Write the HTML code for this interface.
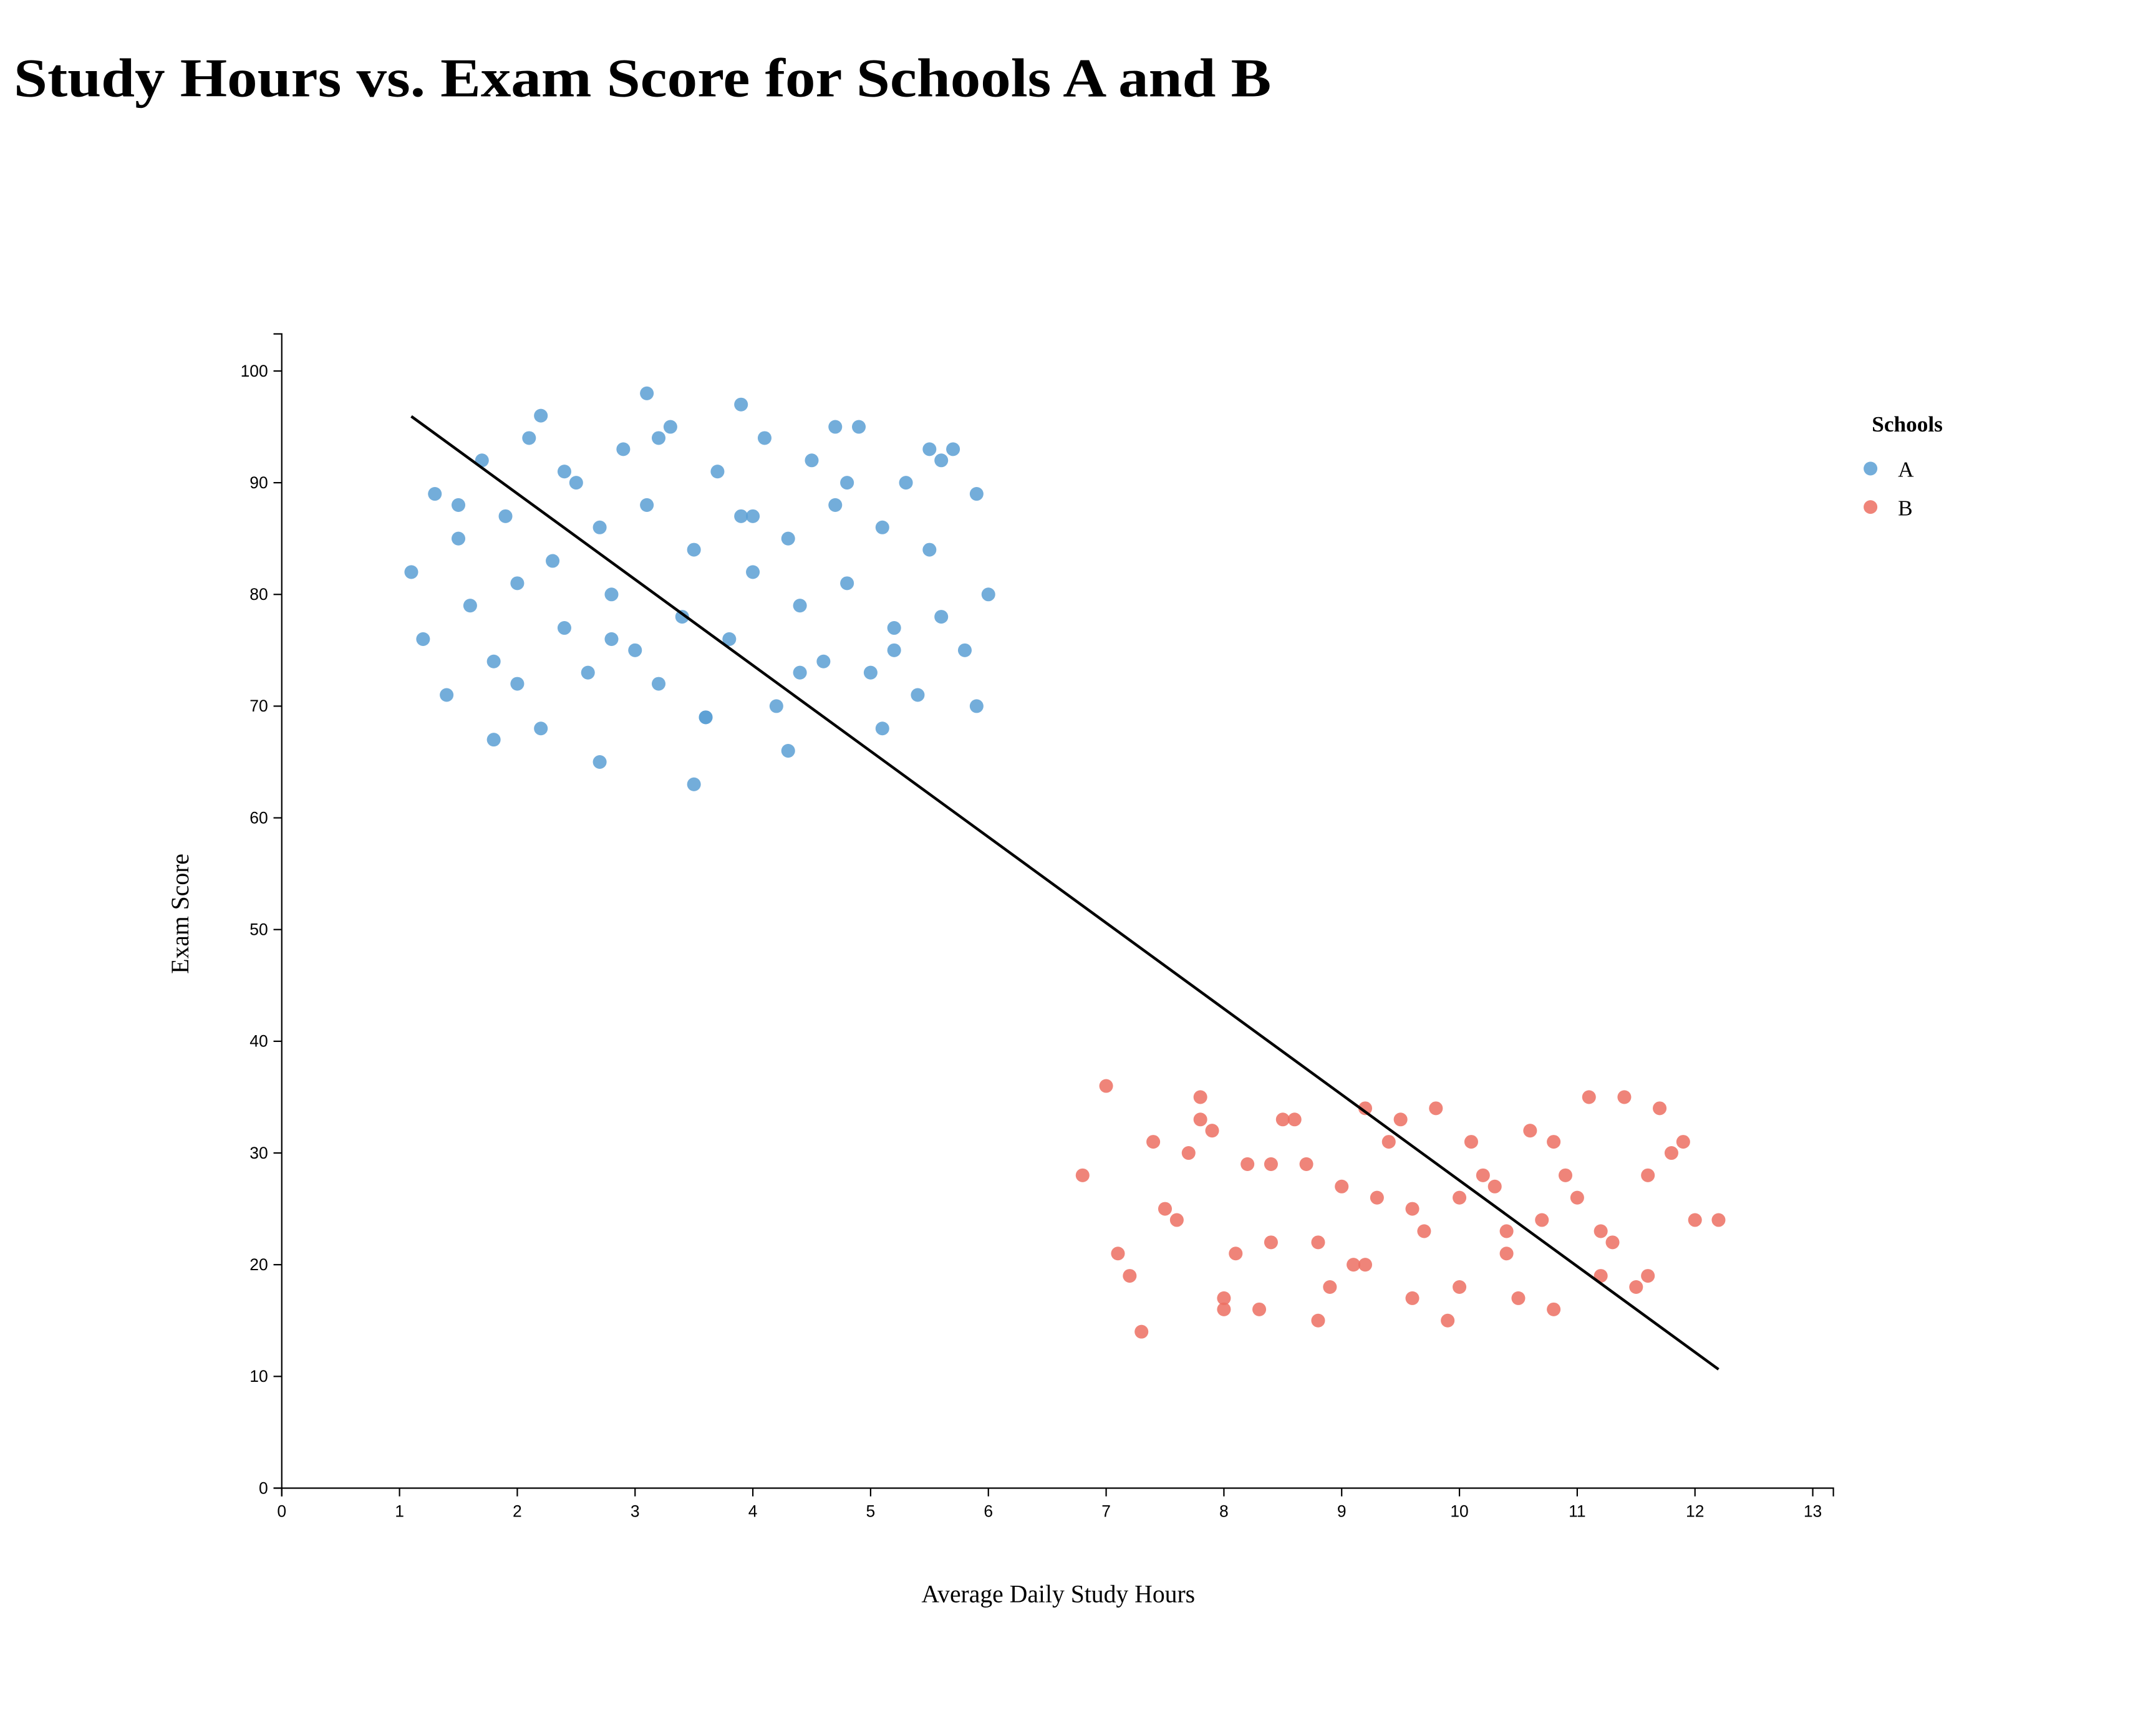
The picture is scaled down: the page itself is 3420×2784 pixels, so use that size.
<!DOCTYPE html>
<html>
<head>
<meta charset="utf-8">
<style>
  html,body{margin:0;padding:0;background:#fff;}
  svg{display:block;}
  text{font-family:"Liberation Serif",serif;}
  .tick{font-family:"Liberation Sans",sans-serif;font-size:12px;fill:#000;}
</style>
</head>
<body>
<svg id="chart" width="3420" height="2784" viewBox="0 0 1552 1263.4" xmlns="http://www.w3.org/2000/svg">
  <text x="10" y="70" font-size="40" font-weight="bold" textLength="915" lengthAdjust="spacingAndGlyphs">Study Hours vs. Exam Score for Schools A and B</text>
  <g id="plot"></g>
  <text x="770" y="1166" font-size="18" text-anchor="middle">Average Daily Study Hours</text>
  <text transform="translate(137,665) rotate(-90)" font-size="18" text-anchor="middle">Exam Score</text>
  <g>
    <text x="1362" y="314" font-size="16" font-weight="bold">Schools</text>
    <g>
      <circle cx="1361" cy="341" r="5" fill="#5a9fd4" fill-opacity="0.85"></circle>
      <text x="1381" y="347" font-size="16">A</text>
    </g>
    <g>
      <circle cx="1361" cy="369" r="5" fill="#ec6f61" fill-opacity="0.85"></circle>
      <text x="1381" y="375" font-size="16">B</text>
    </g>
  </g>
</svg>
<script>
const xTicks = [0,1,2,3,4,5,6,7,8,9,10,11,12,13];
const yTicks = [0,10,20,30,40,50,60,70,80,90,100];
const hoursA = [1.1,1.2,1.3,1.4,1.5,1.5,1.6,1.7,1.8,1.8,1.9,2.0,2.0,2.1,2.2,2.2,2.3,2.4,2.4,2.5,2.6,2.7,2.7,2.8,2.8,2.9,3.0,3.1,3.1,3.2,3.2,3.3,3.4,3.5,3.5,3.6,3.6,3.7,3.8,3.9,3.9,4.0,4.0,4.1,4.2,4.3,4.3,4.4,4.4,4.5,4.6,4.7,4.7,4.8,4.8,4.9,5.0,5.1,5.1,5.2,5.2,5.3,5.4,5.5,5.5,5.6,5.6,5.7,5.8,5.9,5.9,6.0];
const scoresA = [82,76,89,71,88,85,79,92,74,67,87,81,72,94,96,68,83,91,77,90,73,86,65,80,76,93,75,98,88,94,72,95,78,84,63,69,69,91,76,97,87,87,82,94,70,85,66,79,73,92,74,95,88,90,81,95,73,86,68,77,75,90,71,93,84,92,78,93,75,89,70,80];
const hoursB = [6.8,7.0,7.1,7.2,7.3,7.4,7.5,7.6,7.7,7.8,7.8,7.9,8.0,8.0,8.1,8.2,8.3,8.4,8.4,8.5,8.6,8.7,8.8,8.8,8.9,9.0,9.1,9.2,9.2,9.3,9.4,9.5,9.6,9.6,9.7,9.8,9.9,10.0,10.0,10.1,10.2,10.3,10.4,10.4,10.5,10.6,10.7,10.8,10.8,10.9,11.0,11.1,11.2,11.2,11.3,11.4,11.5,11.6,11.6,11.7,11.8,11.9,12.0,12.2];
const scoresB = [28,36,21,19,14,31,25,24,30,35,33,32,17,16,21,29,16,29,22,33,33,29,22,15,18,27,20,34,20,26,31,33,25,17,23,34,15,26,18,31,28,27,23,21,17,32,24,31,16,28,26,35,23,19,22,35,18,28,19,34,30,31,24,24];

const NS = "http://www.w3.org/2000/svg";
const plot = document.getElementById('plot');
const x0 = 205, xPerUnit = (1319 - 205) / 13;
const y0 = 1083, yPerUnit = (1083 - 270) / 100;
function xs(v){ return x0 + v * xPerUnit; }
function ys(v){ return y0 - v * yPerUnit; }
function mk(tag, attrs){ const e = document.createElementNS(NS, tag); for (const k in attrs) e.setAttribute(k, attrs[k]); plot.appendChild(e); return e; }

const xAxis = mk('path', {d:`M205,1089V1083H1334V1089`, fill:'none', stroke:'#000', 'stroke-width':1});


const yAxis = mk('path', {d:`M199,243H205V1083H199`, fill:'none', stroke:'#000', 'stroke-width':1});



xTicks.forEach(t => {
  mk('line', {x1:xs(t), x2:xs(t), y1:1083, y2:1089, stroke:'#000'});
  const tx = mk('text', {x:xs(t), y:1104, 'text-anchor':'middle', class:'tick'});
  tx.textContent = t;
  
  
});
yTicks.forEach(t => {
  mk('line', {x1:199, x2:205, y1:ys(t), y2:ys(t), stroke:'#000'});
  const tx = mk('text', {x:195, y:ys(t)+4, 'text-anchor':'end', class:'tick'});
  tx.textContent = t;
  
  
});

function drawPoints(hx, sy, color, name){
  hx.forEach((h, i) => {
    const c = mk('circle', {cx:xs(h), cy:ys(sy[i]), r:5, fill:color, 'fill-opacity':0.85});
    
    
  });
}
drawPoints(hoursA, scoresA, '#5a9fd4', 'point-school-a');
drawPoints(hoursB, scoresB, '#ec6f61', 'point-school-b');

const allX = hoursA.concat(hoursB), allY = scoresA.concat(scoresB);
const n = allX.length;
const mx = allX.reduce((a,b)=>a+b,0)/n, my = allY.reduce((a,b)=>a+b,0)/n;
let sxy = 0, sxx = 0;
for (let i = 0; i < n; i++){ sxy += (allX[i]-mx)*(allY[i]-my); sxx += (allX[i]-mx)**2; }
const slope = sxy / sxx, icpt = my - slope * mx;
const minX = Math.min(...allX), maxX = Math.max(...allX);
const reg = mk('line', {x1:xs(minX), y1:ys(icpt+slope*minX), x2:xs(maxX), y2:ys(icpt+slope*maxX), stroke:'#000', 'stroke-width':2});


</script>
</body>
</html>
